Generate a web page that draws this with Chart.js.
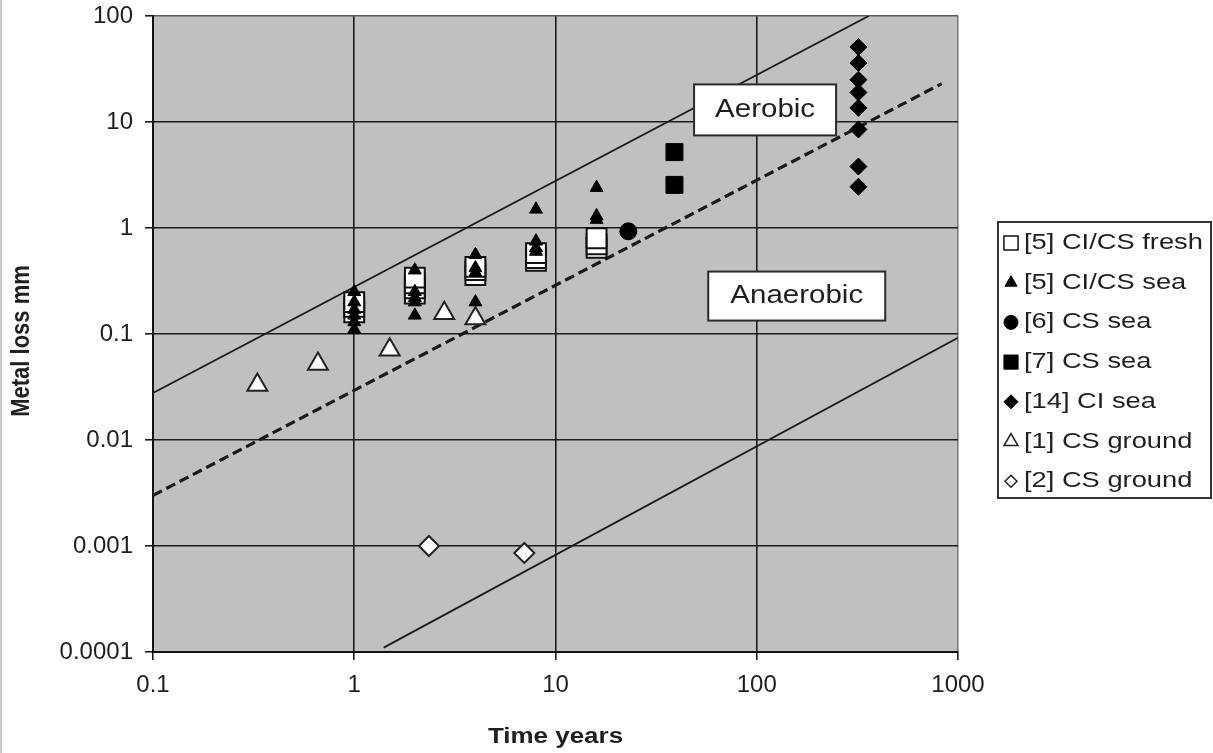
<!DOCTYPE html>
<html>
<head>
<meta charset="utf-8">
<script src="https://cdn.jsdelivr.net/npm/chart.js@4.4.0/dist/chart.umd.min.js"></script>
<style>
  html, body { margin: 0; padding: 0; background: #fff; }
  #wrap { width: 1213px; height: 753px; position: relative; }
</style>
</head>
<body>
<div id="wrap"><canvas id="chart" width="1213" height="753"></canvas></div>
<script>
const FONT = '"Liberation Sans", Arial, sans-serif';
const TEXT = '#1f1f1f';
const STRETCH = 1.18;

// log axes: decade ticks only
const xTicks = [0.1, 1, 10, 100, 1000];
const xTickLabels = ['0.1', '1', '10', '100', '1000'];
const yTicks = [0.0001, 0.001, 0.01, 0.1, 1, 10, 100];
const yTickLabels = ['0.0001', '0.001', '0.01', '0.1', '1', '10', '100'];

// [5] CI/CS fresh water
const freshT    = [1, 1, 1, 2, 2, 2, 2, 4, 4, 4, 8, 8, 8, 16, 16, 16];
const freshLoss = [0.16, 0.18, 0.2, 0.24, 0.27, 0.3, 0.34, 0.36, 0.4, 0.43, 0.49, 0.52, 0.58, 0.65, 0.7, 0.8];

// [5] CI/CS sea water
const seaT    = [1, 1, 1, 1, 1, 1, 2, 2, 2, 2, 2, 4, 4, 4, 4, 8, 8, 8, 8, 16, 16, 16];
const seaLoss = [0.25, 0.2, 0.17, 0.15, 0.13, 0.11, 0.4, 0.25, 0.22, 0.2, 0.15, 0.56, 0.42, 0.38, 0.2, 1.5, 0.75, 0.65, 0.6, 2.4, 1.3, 1.2];

// [6] CS sea
const cs6T = [23];
const cs6Loss = [0.93];

// [7] CS sea
const cs7T = [39, 39];
const cs7Loss = [5.2, 2.55];

// [14] CI sea
const ci14T = [320, 320, 320, 320, 320, 320, 320, 320];
const ci14Loss = [51, 36, 25, 19, 13.6, 8.5, 3.8, 2.45];

// [1] CS ground
const ground1T = [0.33, 0.66, 1.5, 2.8, 4];
const ground1Loss = [0.033, 0.052, 0.071, 0.157, 0.14];

// [2] CS ground
const ground2T = [2.35, 7];
const ground2Loss = [0.001, 0.00086];

// corrosion rate bounds
const aerobicT = [0.1, 360];
const aerobicLoss = [0.0278, 100];
const midT = [0.1, 830];
const midLoss = [0.003, 23];
const anaerobicT = [1.4, 1000];
const anaerobicLoss = [0.00011, 0.092];

const legendLabels = ['[5] CI/CS fresh', '[5] CI/CS sea', '[6] CS sea', '[7] CS sea', '[14] CI sea', '[1] CS ground', '[2] CS ground'];
const regionLabels = ['Aerobic', 'Anaerobic'];

const pts = (xs, ys) => xs.map((x, i) => ({ x: x, y: ys[i] }));

const markerSets = [
  { label: legendLabels[0], data: pts(freshT, freshLoss), pointStyle: 'rect', pointRadius: 14, backgroundColor: '#fff', borderColor: '#111', pointBorderWidth: 2, order: 5, key: { r: 10 } },
  { label: legendLabels[1], data: pts(seaT, seaLoss), pointStyle: 'triangle', pointRadius: 7.5, backgroundColor: '#000', borderColor: '#000', pointBorderWidth: 1, order: 1, key: { r: 7 } },
  { label: legendLabels[2], data: pts(cs6T, cs6Loss), pointStyle: 'circle', pointRadius: 8.5, backgroundColor: '#000', borderColor: '#000', pointBorderWidth: 1, order: 2, key: { r: 7 } },
  { label: legendLabels[3], data: pts(cs7T, cs7Loss), pointStyle: 'rect', pointRadius: 12, backgroundColor: '#000', borderColor: '#000', pointBorderWidth: 1, order: 2, key: { r: 10 } },
  { label: legendLabels[4], data: pts(ci14T, ci14Loss), pointStyle: 'rectRot', pointRadius: 8.5, backgroundColor: '#000', borderColor: '#000', pointBorderWidth: 1, order: 2, key: { r: 7 } },
  { label: legendLabels[5], data: pts(ground1T, ground1Loss), pointStyle: 'triangle', pointRadius: 11.5, backgroundColor: '#fff', borderColor: '#222', pointBorderWidth: 2, order: 2, key: { r: 8 } },
  { label: legendLabels[6], data: pts(ground2T, ground2Loss), pointStyle: 'rectRot', pointRadius: 10, backgroundColor: '#fff', borderColor: '#222', pointBorderWidth: 2, order: 2, key: { r: 6 } }
];

const lineSets = [
  { data: pts(aerobicT, aerobicLoss), borderDash: [] },
  { data: pts(midT, midLoss), borderDash: [10, 5], borderWidth: 3.2 },
  { data: pts(anaerobicT, anaerobicLoss), borderDash: [] }
].map(d => Object.assign({
  showLine: true, pointRadius: 0, borderColor: '#1a1a1a', borderWidth: 1.8, fill: false, order: 10
}, d));

// where the two region boxes sit (data coordinates of box centre)
const regionAt = [{ t: 110, loss: 13, w: 142, h: 51 }, { t: 158, loss: 0.228, w: 177, h: 49 }];

function stretchedText(ctx, text, x, y, font, align, sx) {
  ctx.save();
  ctx.font = font;
  ctx.fillStyle = TEXT;
  ctx.textBaseline = 'middle';
  ctx.textAlign = align;
  ctx.translate(x, y);
  ctx.scale(sx || STRETCH, 1);
  ctx.fillText(text, 0, 0);
  ctx.restore();
}

const decor = {
  id: 'decor',
  beforeDraw(chart) {
    const { ctx, chartArea: a } = chart;
    ctx.save();
    ctx.fillStyle = '#fff';
    ctx.fillRect(0, 0, chart.width, chart.height);
    ctx.fillStyle = '#c8c8c8';
    ctx.fillRect(0, 0, 2, chart.height);
    ctx.fillStyle = '#c0c0c0';
    ctx.fillRect(a.left, a.top, a.right - a.left, a.bottom - a.top);
    ctx.restore();
  },
  afterDraw(chart) {
    const { ctx, chartArea: a } = chart;
    const xs = chart.scales.x, ys = chart.scales.y;

    // Aerobic / Anaerobic boxes
    regionAt.forEach((r, i) => {
      const cx = xs.getPixelForValue(r.t), cy = ys.getPixelForValue(r.loss);
      ctx.save();
      ctx.fillStyle = '#fff';
      ctx.strokeStyle = '#2a2a2a';
      ctx.lineWidth = 2;
      ctx.fillRect(cx - r.w / 2, cy - r.h / 2, r.w, r.h);
      ctx.strokeRect(cx - r.w / 2, cy - r.h / 2, r.w, r.h);
      ctx.restore();
      stretchedText(ctx, regionLabels[i], cx, cy, '25px ' + FONT, 'center');
    });

    // axis titles
    stretchedText(ctx, 'Time years', (a.left + a.right) / 2, 737, 'bold 22px ' + FONT, 'center');
    ctx.save();
    ctx.translate(22, 341);
    ctx.rotate(-Math.PI / 2);
    ctx.scale(1, STRETCH);
    ctx.font = 'bold 22px ' + FONT;
    ctx.fillStyle = TEXT;
    ctx.textAlign = 'center';
    ctx.textBaseline = 'middle';
    ctx.fillText('Metal loss mm', 0, 0);
    ctx.restore();

    // legend
    const lx = 998, ly = 222, lw = 213, lh = 276;
    ctx.save();
    ctx.fillStyle = '#fff';
    ctx.fillRect(lx, ly, lw, lh);
    ctx.strokeStyle = '#333';
    ctx.lineWidth = 2;
    ctx.strokeRect(lx, ly, lw, lh);
    ctx.restore();
    markerSets.forEach((s, i) => {
      const y = 243 + i * 39.7;
      ctx.save();
      ctx.fillStyle = s.backgroundColor;
      ctx.strokeStyle = s.borderColor;
      ctx.lineWidth = s.backgroundColor === '#fff' ? 1.5 : 1;
      Chart.helpers.drawPoint(ctx, { pointStyle: s.pointStyle, radius: s.key.r, rotation: 0, borderWidth: ctx.lineWidth }, 1011, y);
      ctx.restore();
      stretchedText(ctx, s.label, 1024, y, '22px ' + FONT, 'left', 1.24);
    });
  }
};

const tickFont = { family: FONT, size: 24 };

new Chart(document.getElementById('chart'), {
  type: 'scatter',
  data: { datasets: markerSets.concat(lineSets) },
  options: {
    responsive: false,
    animation: false,
    devicePixelRatio: 1,
    layout: { padding: { left: 0, right: 255, top: 16, bottom: 0 } },
    plugins: { legend: { display: false }, tooltip: { enabled: false } },
    scales: {
      x: {
        type: 'logarithmic',
        min: 0.1, max: 1000,
        afterBuildTicks: s => { s.ticks = xTicks.map(v => ({ value: v, major: true })); },
        afterFit: s => { s.height = 101; s.paddingLeft = 0; s.paddingRight = 0; },
        ticks: {
          autoSkip: false, maxRotation: 0, padding: 11, color: TEXT, font: tickFont,
          callback: (v, i) => xTickLabels[i]
        },
        grid: {
          color: c => (c.tick && c.tick.value === 1000 ? '#7c7c7c' : '#1c1c1c'),
          lineWidth: 1.6, tickLength: 8, tickColor: '#1c1c1c'
        },
        border: { color: '#111', width: 2 }
      },
      y: {
        type: 'logarithmic',
        min: 0.0001, max: 100,
        afterBuildTicks: s => { s.ticks = yTicks.map(v => ({ value: v, major: true })); },
        afterFit: s => { s.width = 153; s.paddingTop = 0; s.paddingBottom = 0; },
        ticks: {
          autoSkip: false, padding: 12, color: TEXT, font: tickFont,
          callback: (v, i) => yTickLabels[i]
        },
        grid: {
          color: c => (c.tick && c.tick.value === 100 ? '#5a5a5a' : '#1c1c1c'),
          lineWidth: 1.6, tickLength: 8, tickColor: '#1c1c1c'
        },
        border: { color: '#111', width: 2 }
      }
    }
  },
  plugins: [decor]
});
</script>
</body>
</html>
